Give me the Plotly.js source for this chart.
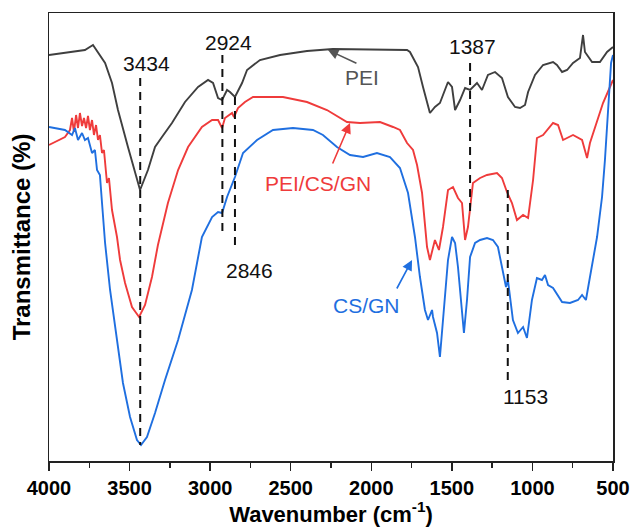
<!DOCTYPE html>
<html>
<head>
<meta charset="utf-8">
<script src="https://cdn.plot.ly/plotly-3.0.1.min.js"></script>
<style>html,body{margin:0;padding:0;background:#fff;}#chart{width:631px;height:528px;}</style>
</head>
<body>
<div id="chart"></div>
<script>
// Wavenumber (cm-1) and transmittance (arbitrary offset units)
const wnPEI = [4000,3901,3839,3777,3727,3696,3652,3609,3572,3510,3466,3435,3386,3342,3299,3237,3156,3075,3013,2982,2951,2926,2895,2877,2846,2802,2771,2691,2566,2399,2238,1778,1760,1710,1679,1636,1605,1574,1524,1499,1480,1449,1418,1387,1344,1313,1276,1232,1189,1152,1108,1077,1046,1027,984,934,872,848,816,785,748,705,686,674,630,581,537,500];
const tPEI  = [406,408,409,411,416,409,398,378,351,314,288,271,291,314,324,338,359,374,381,378,363,361,371,369,364,378,391,401,406,410,412,411,409,394,374,348,354,358,379,374,351,361,373,371,378,371,386,389,383,364,354,353,356,369,386,396,399,396,389,391,398,403,426,409,399,399,409,414];

const wnPCG = [4000,3901,3870,3857,3845,3832,3820,3808,3795,3783,3770,3758,3746,3733,3721,3708,3696,3684,3671,3659,3640,3628,3609,3578,3559,3528,3485,3441,3404,3361,3324,3262,3199,3137,3051,2988,2951,2926,2908,2864,2852,2827,2784,2734,2548,2399,2275,2151,2070,1946,1865,1822,1778,1741,1716,1685,1654,1636,1605,1580,1555,1524,1493,1462,1437,1418,1400,1369,1325,1282,1220,1189,1158,1127,1096,1058,1027,996,972,934,872,841,810,748,692,661,643,599,562,500];
const tPCG  = [316,324,331,343,329,346,333,348,335,343,333,345,331,341,326,336,321,326,308,311,278,283,251,224,201,178,154,144,156,184,216,258,291,314,334,341,341,333,343,348,344,353,359,364,364,359,351,339,338,339,334,331,318,311,296,268,214,201,221,211,234,271,274,263,258,221,234,278,283,286,288,283,269,258,241,246,243,281,323,326,338,336,321,326,321,303,318,341,358,381];

const wnCG = [4000,3901,3857,3839,3820,3795,3777,3758,3733,3715,3702,3684,3671,3652,3621,3578,3541,3497,3454,3429,3392,3342,3280,3199,3113,3051,2988,2951,2926,2895,2846,2796,2709,2610,2486,2362,2300,2213,2132,2051,1965,1884,1822,1772,1729,1698,1667,1648,1623,1617,1592,1574,1555,1524,1499,1480,1462,1437,1425,1406,1387,1356,1325,1282,1245,1214,1183,1164,1152,1121,1090,1058,1034,1003,972,941,922,903,872,816,767,717,692,668,643,599,568,550,512,500];
const tCG  = [334,331,326,333,321,328,321,323,308,311,291,286,258,218,171,121,78,44,21,16,24,48,81,121,171,224,244,249,248,264,284,308,321,331,333,331,326,314,306,304,308,304,293,268,224,184,151,141,151,144,128,104,141,201,224,218,194,151,128,161,204,218,221,223,221,214,191,174,181,141,128,134,123,161,183,181,186,176,173,159,158,161,166,161,184,224,264,301,398,406];

const seriesNames = ['PEI','PEI/CS/GN','CS/GN'];
const seriesColors = ['#3f3f3f','#ef3b3b','#1f6fe0'];
const labelColors = ['#555555','#ef3b3b','#1f6fe0'];

// marked bands
const peakWn   = [3434, 2924, 2846, 1387, 1153];
const peakTop  = [383, 406, 364, 398, 271];
const peakBot  = [16, 229, 214, 248, 76];
const peakLabels = ['3434','2924','2846','1387','1153'];
const peakLabelX = [3398, 2889, 2753, 1375, 1040];
const peakLabelY = [398, 419, 191, 415, 65];

// series labels with arrows
const labelX = [2058, 2331, 2027];
const labelY = [384, 278, 156];
const arrowX = [2269, 2132, 1747];
const arrowY = [411, 338, 201];

const FONT = 'Arial, "Liberation Sans", Helvetica, sans-serif';

const data = [[wnPEI,tPEI],[wnPCG,tPCG],[wnCG,tCG]].map((s,i)=>({
  x: s[0], y: s[1], type:'scatter', mode:'lines', name: seriesNames[i],
  line:{color: seriesColors[i], width:1.9}, showlegend:false, hoverinfo:'skip'
}));

const shapes = peakWn.map((w,i)=>({
  type:'line', xref:'x', yref:'y', x0:w, x1:w, y0:peakTop[i], y1:peakBot[i],
  line:{color:'#111', width:2, dash:'8px,6px'}
}));

const annotations = [];
peakLabels.forEach((t,i)=>annotations.push({
  x: peakLabelX[i], y: peakLabelY[i], xref:'x', yref:'y', text:t, showarrow:false,
  font:{family:FONT, size:21, color:'#111'}
}));
const arrowOff = [[30,14],[-18,42],[-16,30]];
seriesNames.forEach((n,i)=>{
  annotations.push({x: labelX[i], y: labelY[i], xref:'x', yref:'y', text:n, showarrow:false,
    font:{family:FONT, size:21, color: labelColors[i]}});
  annotations.push({x: arrowX[i], y: arrowY[i], xref:'x', yref:'y', text:'', showarrow:true,
    ax: arrowOff[i][0], ay: arrowOff[i][1], axref:'pixel', ayref:'pixel',
    arrowhead:2, arrowsize:1.3, arrowwidth:1.6, arrowcolor: labelColors[i]});
});

const layout = {
  width:631, height:528,
  margin:{l:49, r:18, t:13, b:67},
  paper_bgcolor:'#fff', plot_bgcolor:'#fff',
  font:{family:FONT, color:'#000'},
  xaxis:{
    range:[4000,500], tickmode:'linear', tick0:500, dtick:500,
    ticks:'outside', ticklen:8, tickwidth:1.5, tickcolor:'#222',
    minor:{ticks:'outside', ticklen:5, tickwidth:1.5, tickcolor:'#222', dtick:250},
    showline:true, linecolor:'#222', linewidth:1.5, mirror:true,
    showgrid:false, zeroline:false,
    tickfont:{family:FONT, size:20, color:'#000', weight:'bold'},
    title:{text:'Wavenumber (cm<sup>-1</sup>)', font:{family:FONT, size:22, color:'#000', weight:'bold'}, standoff:6}
  },
  yaxis:{
    range:[0,448], showticklabels:false, ticks:'',
    showline:true, linecolor:'#222', linewidth:1.5, mirror:true,
    showgrid:false, zeroline:false,
    title:{text:'Transmittance (%)', font:{family:FONT, size:24, color:'#000', weight:'bold'}, standoff:10}
  },
  shapes: shapes,
  annotations: annotations
};

Plotly.newPlot('chart', data, layout, {staticPlot:true});
</script>
</body>
</html>
